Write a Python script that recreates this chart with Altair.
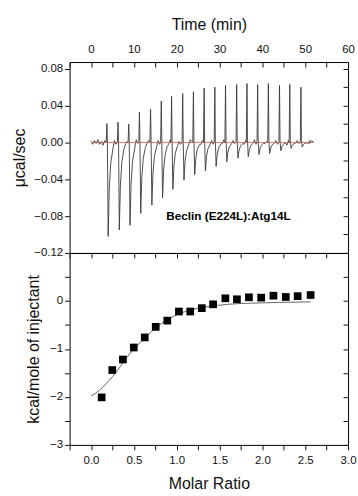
import altair as alt
import pandas as pd

# ---------------- raw thermogram (top panel) ----------------
inj_time = [3.7, 6.3, 8.8, 11.3, 13.9, 16.4, 18.8, 21.4, 23.9, 26.4,
            28.9, 31.4, 34.0, 36.4, 38.9, 41.4, 44.0, 46.4, 49.0]
up_peak = [0.0205, 0.022, 0.020, 0.033, 0.036, 0.045, 0.050, 0.053, 0.055, 0.059,
           0.060, 0.062, 0.063, 0.064, 0.063, 0.064, 0.062, 0.063, 0.060]
down_peak = [-0.102, -0.095, -0.090, -0.077, -0.068, -0.060, -0.051, -0.041, -0.035, -0.031,
             -0.026, -0.021, -0.017, -0.0155, -0.013, -0.012, -0.009, -0.0065, -0.005]
noise_a = [0.002, -0.002, 0.003, -0.001, 0.002, -0.002, 0.001, 0.003, -0.002, 0.002,
           -0.001, 0.002, -0.002, 0.003, -0.001, 0.002, -0.003, 0.002, -0.001]
noise_b = [-0.002, 0.001, -0.001, 0.002, -0.002, 0.003, -0.002, 0.001, 0.002, -0.002,
           0.003, -0.001, 0.002, -0.002, 0.001, -0.002, 0.002, -0.001, 0.002]
pre_t = [0.0, 0.4, 0.8, 1.2, 1.6, 2.0, 2.4, 2.8, 3.2]
pre_v = [0.001, -0.002, 0.002, -0.001, 0.003, -0.002, 0.001, -0.003, 0.002]
end_t = [51.0, 51.5, 52.0]
end_v = [-0.001, 0.002, 0.000]
# spike template: time offsets after injection and fraction of the read depth
spike_dt = [0.3, 0.55, 0.9, 1.4]
spike_frac = [1.0, 0.5, 0.22, 0.07]

baseline_t = [0.0, 52.0]
baseline_v = [0.0, 0.0]

# ---------------- integrated heats (bottom panel) ----------------
molar_ratio = [0.124, 0.248, 0.372, 0.499, 0.627, 0.755, 0.890, 1.026, 1.158, 1.293,
               1.425, 1.568, 1.703, 1.843, 1.986, 2.129, 2.273, 2.412, 2.563]
heat = [-2.01, -1.44, -1.22, -0.97, -0.76, -0.54, -0.41, -0.22, -0.22, -0.15,
        -0.07, 0.055, 0.035, 0.076, 0.069, 0.11, 0.083, 0.10, 0.124]
fit_x = [0.0, 0.1, 0.2, 0.3, 0.4, 0.5, 0.6, 0.7, 0.8, 0.9, 1.0, 1.1, 1.2, 1.4,
         1.6, 1.8, 2.0, 2.2, 2.4, 2.56]
fit_y = [-1.98, -1.86, -1.68, -1.47, -1.22, -1.0, -0.82, -0.65, -0.50, -0.38,
         -0.29, -0.22, -0.17, -0.11, -0.07, -0.05, -0.04, -0.03, -0.025, -0.02]

time_labels = [0, 10, 20, 30, 40, 50, 60]
time_ticks = [-5, 0, 5, 10, 15, 20, 25, 30, 35, 40, 45, 50, 55, 60]
ucal_labels = [-0.12, -0.08, -0.04, 0.0, 0.04, 0.08]
ucal_ticks = [-0.12, -0.10, -0.08, -0.06, -0.04, -0.02, 0.0, 0.02, 0.04, 0.06, 0.08]
ratio_ticks = [-0.25, 0.0, 0.25, 0.5, 0.75, 1.0, 1.25, 1.5, 1.75, 2.0, 2.25, 2.5, 2.75, 3.0]
kcal_ticks = [-3.0, -2.5, -2.0, -1.5, -1.0, -0.5, 0.0, 0.5]
kcal_right_ticks = [-3.0, -2.5, -2.0, -1.5, -1.0, -0.5, 0.0, 0.5, 1.0]

annot_text = ["Beclin (E224L):Atg14L"]
annot_t = [32.1]
annot_v = [-0.080]

FONT = "Liberation Sans"

# build trace rows
rows_t, rows_v = list(pre_t), list(pre_v)
for i, t in enumerate(inj_time):
    rows_t += [t - 0.15, t, t + 0.12]
    rows_v += [0.0, up_peak[i], 0.002]
    for dt, fr in zip(spike_dt, spike_frac):
        rows_t.append(t + dt)
        rows_v.append(down_peak[i] * fr)
    rows_t += [t + 1.75, t + 2.1]
    rows_v += [noise_a[i], noise_b[i]]
rows_t += end_t
rows_v += end_v
trace_df = pd.DataFrame({"t": rows_t, "v": rows_v, "o": list(range(len(rows_t)))})
base_df = pd.DataFrame({"t": baseline_t, "v": baseline_v})
annot_df = pd.DataFrame({"t": annot_t, "v": annot_v, "label": annot_text})
pts_df = pd.DataFrame({"r": molar_ratio, "h": heat})
fit_df = pd.DataFrame({"r": fit_x, "h": fit_y})

xs_top = alt.Scale(domain=[-5, 60], nice=False, zero=False)
ys_top = alt.Scale(domain=[-0.12, 0.0873], nice=False, zero=False)
xs_bot = alt.Scale(domain=[-0.25, 3.0], nice=False, zero=False)
ys_bot = alt.Scale(domain=[-3.0, 1.0], nice=False, zero=False)

W = 280

trace = alt.Chart(trace_df).mark_line(color="#3a3a3a", strokeWidth=0.9).encode(
    x=alt.X("t:Q", scale=xs_top,
            axis=alt.Axis(orient="top", values=time_labels, ticks=False, tickSize=0,
                          labelPadding=8, title="Time (min)", titlePadding=11,
                          labelFlush=False, labelOverlap=False)),
    y=alt.Y("v:Q", scale=ys_top,
            axis=alt.Axis(orient="left", values=ucal_labels, format=".2f", tickSize=5,
                          labelPadding=2, title="μcal/sec", titlePadding=6,
                          labelOverlap=False, labelFlush=False)),
    order="o:Q",
)

base = alt.Chart(base_df).mark_line(color="#c0605a", strokeWidth=0.8).encode(
    x=alt.X("t:Q", scale=xs_top,
            axis=alt.Axis(orient="top", offset=-5, values=time_ticks, tickSize=5,
                          labels=False, title=None)),
    y=alt.Y("v:Q", scale=ys_top,
            axis=alt.Axis(orient="right", offset=-5, values=ucal_ticks, tickSize=5,
                          labels=False, title=None)),
)

annot = alt.Chart(annot_df).mark_text(
    font=FONT, fontSize=11.8, fontWeight="bold", color="black",
    align="center", baseline="middle"
).encode(
    x=alt.X("t:Q", scale=xs_top, axis=None),
    y=alt.Y("v:Q", scale=ys_top, axis=None),
    text="label:N",
)

top = alt.layer(trace, base, annot).resolve_axis(x="independent", y="independent").properties(
    width=W, height=192)

pts = alt.Chart(pts_df).mark_square(color="black", size=60, opacity=1).encode(
    x=alt.X("r:Q", scale=xs_bot,
            axis=alt.Axis(orient="bottom", values=ratio_ticks, tickSize=5, labelPadding=5,
                          labelExpr="abs(datum.value*2 - round(datum.value*2)) < 0.01 ? format(datum.value, '.1f') : ''",
                          title="Molar Ratio", titlePadding=9,
                          labelFlush=False, labelOverlap=False)),
    y=alt.Y("h:Q", scale=ys_bot,
            axis=alt.Axis(orient="left", values=kcal_ticks, tickSize=5, labelPadding=2,
                          labelExpr="abs(datum.value - round(datum.value)) < 0.01 ? format(datum.value, 'd') : ''",
                          title="kcal/mole of injectant", titlePadding=8.5,
                          labelFlush=False, labelOverlap=False)),
)

fit = alt.Chart(fit_df).mark_line(color="#555555", strokeWidth=0.9, interpolate="monotone").encode(
    x=alt.X("r:Q", scale=xs_bot,
            axis=alt.Axis(orient="top", offset=-5, values=ratio_ticks, tickSize=5,
                          labels=False, title=None)),
    y=alt.Y("h:Q", scale=ys_bot,
            axis=alt.Axis(orient="right", offset=-5, values=kcal_right_ticks, tickSize=5,
                          labels=False, title=None)),
)

bottom = alt.layer(fit, pts).resolve_axis(x="independent", y="independent").properties(
    width=W, height=193)

chart = alt.vconcat(top, bottom, spacing=0, bounds="flush").properties(
    padding={"left": 11, "top": 14, "right": 1, "bottom": 2},
    background="white",
).configure_view(
    stroke="black", strokeWidth=1
).configure_axis(
    grid=False, domain=False, tickColor="#111", tickWidth=1,
    labelFont=FONT, titleFont=FONT, labelFontSize=11.5, titleFontSize=16,
    titleFontWeight="normal", labelColor="#111", titleColor="#111",
)

chart.save("out.html", embed_options={"renderer": "svg", "actions": False})
